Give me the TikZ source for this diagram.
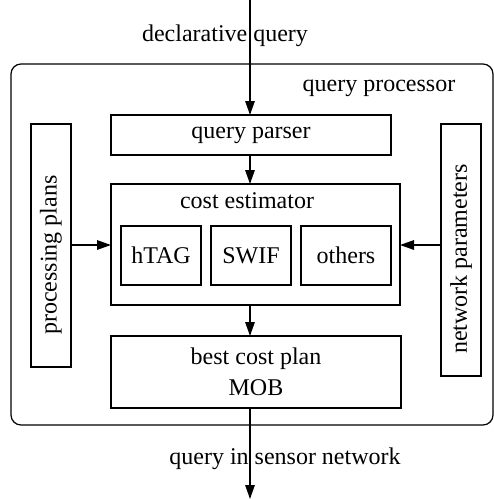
\documentclass[tikz,border=0pt]{standalone}
\usepackage{fontspec}
\setmainfont{Liberation Serif}
\usetikzlibrary{arrows.meta}
\begin{document}
\begin{tikzpicture}[x=1pt,y=-1pt,
  font=\fontsize{24}{28}\selectfont,
  every node/.style={inner sep=0pt,outer sep=0pt},
  box/.style={draw,line width=1.2pt},
  flow/.style={line width=1.4pt,-{Triangle[length=14pt,width=9.5pt]}}]
\useasboundingbox (0,0) rectangle (494,499);
% enclosing processor
\draw[line width=1.2pt,rounded corners=10pt] (11,64) rectangle (493,425);
\node (proclbl) at (379,88) {query processor};
% inner blocks
\node[box,minimum width=280pt,minimum height=40pt] (parser) at (251,135) {query parser};
\node[box,minimum width=289pt,minimum height=121pt] (cost) at (255.5,244.5) {};
\node (costlbl) at (247,201) {cost estimator};
\node[box,minimum width=80pt,minimum height=59pt] (htag) at (161,255.5) {hTAG};
\node[box,minimum width=80pt,minimum height=59pt] (swif) at (251,255.5) {SWIF};
\node[box,minimum width=90pt,minimum height=59pt] (others) at (346,255.5) {others};
\node[box,minimum width=290pt,minimum height=72pt,align=center,font=\fontsize{24}{31}\selectfont] (best) at (256,372) {best cost plan\\MOB};
\node[box,minimum width=40pt,minimum height=243pt] (plans) at (51,245.5) {};
\node[rotate=90] (planslbl) at (51,255) {processing plans};
\node[box,minimum width=40pt,minimum height=252pt] (netp) at (461,250) {};
\node[rotate=90] (netplbl) at (461,259) {network parameters};
% external labels
\node (decl) at (225,36) {declarative query};
\node (out) at (285,459) {query in sensor network};
% connectors
\coordinate (src) at (250,0);
\coordinate (dst) at (250,499);
\draw[flow] (src) -- (src |- parser.north);
\draw[flow] (250,155) coordinate (p1) -- (p1 |- cost.north);
\draw[flow] (250,305) coordinate (c1) -- (c1 |- best.north);
\draw[flow] (250,408) coordinate (b1) -- (dst);
\draw[flow] (plans.east |- 0,245) -- (cost.west |- 0,245);
\draw[flow] (netp.west |- 0,245) -- (cost.east |- 0,245);
\end{tikzpicture}
\end{document}
